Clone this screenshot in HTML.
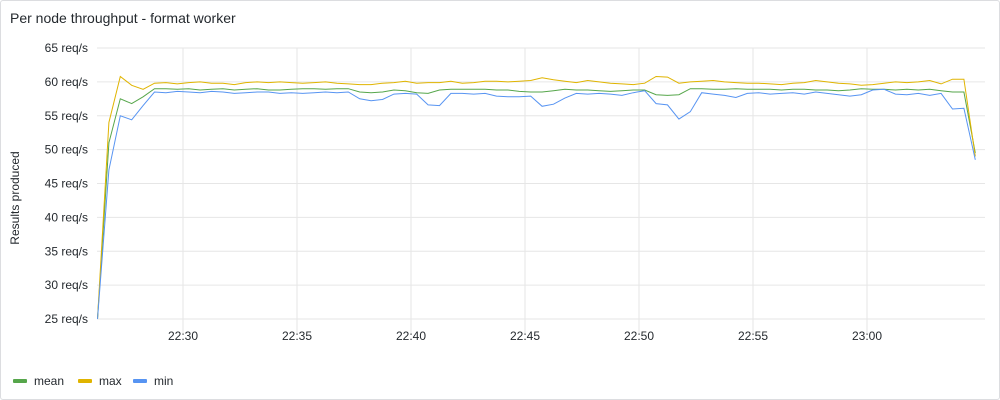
<!DOCTYPE html>
<html><head><meta charset="utf-8"><style>
body{margin:0;background:#fff;font-family:"Liberation Sans",sans-serif;}
#panel{position:absolute;left:0;top:0;width:998px;height:398px;border:1px solid #dcdde0;border-radius:3px;background:#fff}
</style></head><body>
<div id="panel">
<svg id="chart" width="1000" height="400" style="position:absolute;left:-1px;top:-1px">
<text x="10" y="23" font-size="14" fill="#24292e">Per node throughput - format worker</text>
<text transform="translate(19,198) rotate(-90)" text-anchor="middle" font-size="12" fill="#24292e">Results produced</text>
<g id="grid"></g><g id="series"></g>
<g>
<g><rect x="13" y="379" width="14" height="4" rx="1" fill="#56A64B"/><text x="34" y="385" font-size="12" fill="#24292e">mean</text></g>
<g><rect x="78" y="379" width="14" height="4" rx="1" fill="#E0B400"/><text x="99" y="385" font-size="12" fill="#24292e">max</text></g>
<g><rect x="133" y="379" width="14" height="4" rx="1" fill="#5794F2"/><text x="154" y="385" font-size="12" fill="#24292e">min</text></g>
</g>
</svg></div>
<script>
const yTicks=[25,30,35,40,45,50,55,60,65];
const xTickLabels=["22:30","22:35","22:40","22:45","22:50","22:55","23:00"];
const xTickMinutes=[30,35,40,45,50,55,60];
const meanVals=[25,51,57.5,56.8,57.8,59,59,58.9,59,58.8,58.9,59,58.8,58.9,59,58.8,58.8,58.9,59,59,58.9,59,59,58.5,58.4,58.5,58.8,58.7,58.4,58.3,58.8,58.9,58.9,58.9,58.9,58.8,58.8,58.6,58.5,58.5,58.7,58.9,58.8,58.8,58.7,58.6,58.7,58.8,58.8,58.1,58.0,58.1,59.0,59.0,58.9,58.9,59,58.9,58.9,58.9,58.8,58.9,58.9,58.8,58.8,58.7,58.8,59,58.9,58.9,58.8,58.9,58.8,58.9,58.7,58.5,58.5,49.5];
const maxVals=[25,54,60.8,59.5,58.9,59.8,59.9,59.7,59.9,60,59.8,59.8,59.6,59.9,60,59.9,60,59.9,59.8,59.9,60,59.8,59.7,59.6,59.6,59.8,59.9,60.1,59.8,59.9,59.9,60.1,59.8,59.9,60.1,60.1,60,60.1,60.2,60.6,60.3,60.1,59.9,60.2,60,59.8,59.7,59.6,59.8,60.8,60.7,59.8,60,60.1,60.2,60,59.9,59.8,59.8,59.7,59.6,59.8,59.9,60.2,60,59.8,59.7,59.5,59.6,59.8,60,59.9,60,60.2,59.7,60.4,60.4,49];
const minVals=[25,47,55,54.4,56.5,58.5,58.4,58.6,58.5,58.4,58.6,58.5,58.3,58.4,58.5,58.5,58.3,58.4,58.3,58.4,58.5,58.4,58.5,57.5,57.2,57.4,58.2,58.3,58.2,56.6,56.5,58.3,58.3,58.2,58.3,57.9,57.8,57.8,57.9,56.4,56.7,57.6,58.3,58.2,58.3,58.2,58,58.4,58.7,56.8,56.6,54.5,55.6,58.4,58.2,58,57.7,58.3,58.4,58.2,58.3,58.4,58.2,58.5,58.3,58.1,57.9,58.1,58.8,58.9,58.2,58.1,58.3,58.0,58.3,56,56.1,48.5];
const NS="http://www.w3.org/2000/svg";
const X0=97,X1=985,Y0=48,Y1=319;
const startMin=26.25,stepMin=0.5;
const pxPerMin=114/5;
function xOfMin(m){return 183+(m-30)*pxPerMin;}
function xOfIdx(i){return xOfMin(startMin+i*stepMin);}
function y(v){return Y0+(65-v)*(Y1-Y0)/40;}
const grid=document.getElementById('grid');
yTicks.forEach(v=>{
 const l=document.createElementNS(NS,'line');
 l.setAttribute('x1',X0);l.setAttribute('x2',X1);l.setAttribute('y1',y(v));l.setAttribute('y2',y(v));
 l.setAttribute('stroke','#e6e6e6');
 
 
 grid.appendChild(l);
 const t=document.createElementNS(NS,'text');
 t.setAttribute('x',88);t.setAttribute('y',y(v)+4);t.setAttribute('text-anchor','end');
 t.setAttribute('font-size','12');t.setAttribute('fill','#24292e');
 t.textContent=v+' req/s';
 
 
 grid.appendChild(t);
});
xTickMinutes.forEach((m,i)=>{
 const x=xOfMin(m);
 const l=document.createElementNS(NS,'line');
 l.setAttribute('x1',x);l.setAttribute('x2',x);l.setAttribute('y1',Y0);l.setAttribute('y2',333);
 l.setAttribute('stroke','#e6e6e6');
 
 
 grid.appendChild(l);
 const t=document.createElementNS(NS,'text');
 t.setAttribute('x',x);t.setAttribute('y',340);t.setAttribute('text-anchor','middle');
 t.setAttribute('font-size','12');t.setAttribute('fill','#24292e');
 t.textContent=xTickLabels[i];
 
 
 grid.appendChild(t);
});
const ser=document.getElementById('series');
[[meanVals,'#56A64B','mean'],[maxVals,'#E0B400','max'],[minVals,'#5794F2','min']].forEach(([vals,c,n])=>{
 const p=document.createElementNS(NS,'path');
 p.setAttribute('d',vals.map((v,i)=>(i?'L':'M')+Math.min(xOfIdx(i),X1).toFixed(1)+','+y(v).toFixed(1)).join(''));
 p.setAttribute('fill','none');p.setAttribute('stroke',c);p.setAttribute('stroke-width','1');
 
 
 ser.appendChild(p);
});
</script>
</body></html>
